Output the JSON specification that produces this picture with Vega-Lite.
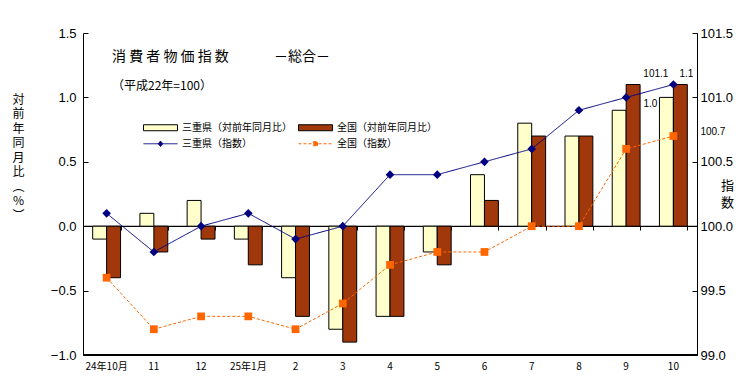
{
  "$schema": "https://vega.github.io/schema/vega-lite/v6.json",
  "width": 614,
  "height": 322,
  "autosize": "none",
  "padding": {"left": 83, "top": 33, "right": 47, "bottom": 23},
  "background": "white",
  "config": {
    "view": {"stroke": null},
    "font": "Noto Sans CJK JP",
    "axis": {"grid": false, "domain": true, "domainColor": "#000000", "domainOpacity": 1, "tickColor": "#000000", "tickOpacity": 1, "labelColor": "black", "titleColor": "black", "titleFontWeight": "normal", "domainWidth": 1, "tickWidth": 1},
    "legend": {"labelColor": "black", "labelFont": "Noto Sans CJK JP", "labelFontSize": 10}
  },
  "title": {
    "text": "消 費 者 物 価 指 数　　　 －総合－",
    "subtitle": "（平成22年=100）",
    "anchor": "start",
    "frame": "group",
    "font": "Noto Sans CJK JP",
    "subtitleFont": "Noto Sans CJK JP",
    "fontSize": 14,
    "fontWeight": "normal",
    "subtitleFontSize": 12,
    "color": "black",
    "subtitleColor": "black",
    "dx": 29,
    "dy": 69,
    "subtitlePadding": 17
  },
  "datasets": {
    "yoy": [
      {"month": "24年10月", "series": "三重県（対前年同月比）", "value": -0.1},
      {"month": "24年10月", "series": "全国（対前年同月比）", "value": -0.4},
      {"month": "11", "series": "三重県（対前年同月比）", "value": 0.1},
      {"month": "11", "series": "全国（対前年同月比）", "value": -0.2},
      {"month": "12", "series": "三重県（対前年同月比）", "value": 0.2},
      {"month": "12", "series": "全国（対前年同月比）", "value": -0.1},
      {"month": "25年1月", "series": "三重県（対前年同月比）", "value": -0.1},
      {"month": "25年1月", "series": "全国（対前年同月比）", "value": -0.3},
      {"month": "2", "series": "三重県（対前年同月比）", "value": -0.4},
      {"month": "2", "series": "全国（対前年同月比）", "value": -0.7},
      {"month": "3", "series": "三重県（対前年同月比）", "value": -0.8},
      {"month": "3", "series": "全国（対前年同月比）", "value": -0.9},
      {"month": "4", "series": "三重県（対前年同月比）", "value": -0.7},
      {"month": "4", "series": "全国（対前年同月比）", "value": -0.7},
      {"month": "5", "series": "三重県（対前年同月比）", "value": -0.2},
      {"month": "5", "series": "全国（対前年同月比）", "value": -0.3},
      {"month": "6", "series": "三重県（対前年同月比）", "value": 0.4},
      {"month": "6", "series": "全国（対前年同月比）", "value": 0.2},
      {"month": "7", "series": "三重県（対前年同月比）", "value": 0.8},
      {"month": "7", "series": "全国（対前年同月比）", "value": 0.7},
      {"month": "8", "series": "三重県（対前年同月比）", "value": 0.7},
      {"month": "8", "series": "全国（対前年同月比）", "value": 0.7},
      {"month": "9", "series": "三重県（対前年同月比）", "value": 0.9},
      {"month": "9", "series": "全国（対前年同月比）", "value": 1.1},
      {"month": "10", "series": "三重県（対前年同月比）", "value": 1.0},
      {"month": "10", "series": "全国（対前年同月比）", "value": 1.1}
    ],
    "idx": [
      {"month": "24年10月", "series": "三重県（指数）", "value": 100.1},
      {"month": "24年10月", "series": "全国（指数）", "value": 99.6},
      {"month": "11", "series": "三重県（指数）", "value": 99.8},
      {"month": "11", "series": "全国（指数）", "value": 99.2},
      {"month": "12", "series": "三重県（指数）", "value": 100.0},
      {"month": "12", "series": "全国（指数）", "value": 99.3},
      {"month": "25年1月", "series": "三重県（指数）", "value": 100.1},
      {"month": "25年1月", "series": "全国（指数）", "value": 99.3},
      {"month": "2", "series": "三重県（指数）", "value": 99.9},
      {"month": "2", "series": "全国（指数）", "value": 99.2},
      {"month": "3", "series": "三重県（指数）", "value": 100.0},
      {"month": "3", "series": "全国（指数）", "value": 99.4},
      {"month": "4", "series": "三重県（指数）", "value": 100.4},
      {"month": "4", "series": "全国（指数）", "value": 99.7},
      {"month": "5", "series": "三重県（指数）", "value": 100.4},
      {"month": "5", "series": "全国（指数）", "value": 99.8},
      {"month": "6", "series": "三重県（指数）", "value": 100.5},
      {"month": "6", "series": "全国（指数）", "value": 99.8},
      {"month": "7", "series": "三重県（指数）", "value": 100.6},
      {"month": "7", "series": "全国（指数）", "value": 100.0},
      {"month": "8", "series": "三重県（指数）", "value": 100.9},
      {"month": "8", "series": "全国（指数）", "value": 100.0},
      {"month": "9", "series": "三重県（指数）", "value": 101.0},
      {"month": "9", "series": "全国（指数）", "value": 100.6},
      {"month": "10", "series": "三重県（指数）", "value": 101.1},
      {"month": "10", "series": "全国（指数）", "value": 100.7}
    ]
  },
  "layer": [
    {
      "data": {"values": [{}]},
      "mark": {"type": "rect", "color": "black", "opacity": 1},
      "encoding": {
        "y": {"datum": 0.004, "type": "quantitative", "scale": {"domain": [-1, 1.5], "nice": false, "zero": false}, "axis": null},
        "y2": {"datum": -0.004}
      }
    },
    {
      "data": {"values": [{}]},
      "mark": {"type": "rect", "color": "black", "opacity": 1},
      "encoding": {
        "y": {"datum": -0.992, "type": "quantitative", "scale": {"domain": [-1, 1.5], "nice": false, "zero": false}, "axis": null},
        "y2": {"datum": -1}
      }
    },
    {
      "data": {"name": "yoy"},
      "encoding": {
        "x": {
          "field": "month", "type": "nominal", "sort": null,
          "scale": {"paddingInner": 0.41, "paddingOuter": 0.205},
          "axis": {"title": null, "domain": true, "ticks": false, "labelAngle": 0, "labelFontSize": 10, "labelFont": "Noto Sans CJK JP", "labelPadding": 6, "orient": "bottom"}
        },
        "y": {
          "field": "value", "type": "quantitative",
          "scale": {"domain": [-1, 1.5], "nice": false, "zero": false},
          "axis": {
            "orient": "left", "values": [-1, -0.5, 0, 0.5, 1, 1.5], "format": ".1f",
            "domain": true, "ticks": true,
            "tickSize": -5, "labelFont": "Liberation Sans", "labelFontSize": 13, "labelPadding": 12,
            "title": ["対", "前", "年", "同", "月", "比", "︵", "%", "︶"],
            "titleAngle": 0, "titleX": -65, "titleY": 61, "titleBaseline": "top", "titleAlign": "center",
            "titleFontSize": 12, "titleLineHeight": 14.5, "titleFont": "Noto Sans CJK JP"
          }
        }
      },
      "layer": [
        {
          "mark": {"type": "bar", "stroke": "black", "strokeWidth": 1},
          "encoding": {
            "xOffset": {"field": "series", "type": "nominal", "scale": {"domain": ["三重県（対前年同月比）", "全国（対前年同月比）"]}},
            "fill": {
              "field": "series", "type": "nominal",
              "scale": {"domain": ["三重県（対前年同月比）", "全国（対前年同月比）"], "range": ["#FFFFCC", "#A0380C"]},
              "legend": {
                "title": null, "orient": "none", "legendX": 60, "legendY": 77,
                "direction": "horizontal", "columns": 2,
                "symbolType": "M-1,-0.176H1V0.176H-1Z", "symbolSize": 1156,
                "symbolStrokeColor": "black", "symbolStrokeWidth": 1,
                "labelOffset": 4, "columnPadding": 4, "labelLimit": 300
              }
            }
          }
        },
        {
          "transform": [{"filter": "datum.month === '10' && datum.series === '三重県（対前年同月比）'"}],
          "mark": {"type": "text", "align": "right", "baseline": "middle", "dx": -9, "dy": 7, "font": "Liberation Sans", "fontSize": 10, "color": "black"},
          "encoding": {
            "xOffset": {"field": "series", "type": "nominal"},
            "text": {"field": "value", "type": "quantitative", "format": ".1f"}
          }
        },
        {
          "transform": [{"filter": "datum.month === '10' && datum.series === '全国（対前年同月比）'"}],
          "mark": {"type": "text", "align": "center", "baseline": "middle", "dx": 6, "dy": -11, "font": "Liberation Sans", "fontSize": 10, "color": "black"},
          "encoding": {
            "xOffset": {"field": "series", "type": "nominal"},
            "text": {"field": "value", "type": "quantitative", "format": ".1f"}
          }
        }
      ]
    },
    {
      "data": {"name": "idx"},
      "encoding": {
        "x": {
          "field": "month", "type": "nominal", "sort": null,
          "axis": {"title": null, "orient": "bottom", "offset": -129, "domain": true, "labels": false, "ticks": true, "tickBand": "extent", "tickSize": 4}
        },
        "y": {
          "field": "value", "type": "quantitative",
          "scale": {"domain": [99, 101.5], "nice": false, "zero": false},
          "axis": {
            "orient": "right", "values": [99, 99.5, 100, 100.5, 101, 101.5], "format": ".1f",
            "domain": true, "ticks": true,
            "tickSize": -5, "labelFont": "Liberation Sans", "labelFontSize": 13, "labelPadding": 8,
            "title": ["指", "数"], "titleAngle": 0, "titleX": 30, "titleY": 146, "titleBaseline": "top", "titleAlign": "center",
            "titleFontSize": 13, "titleLineHeight": 17, "titleFont": "Noto Sans CJK JP"
          }
        }
      },
      "layer": [
        {
          "mark": {"type": "line", "strokeWidth": 1},
          "encoding": {
            "stroke": {
              "field": "series", "type": "nominal",
              "scale": {"domain": ["三重県（指数）", "全国（指数）"], "range": ["#000080", "#FF6600"]},
              "legend": {
                "title": null, "orient": "none", "legendX": 60, "legendY": 93,
                "direction": "horizontal", "columns": 2,
                "symbolType": "M-1,0H1M0,-0.16L0.13,0L0,0.16L-0.13,0Z", "symbolSize": 1156,
                "labelOffset": 4, "columnPadding": 44, "labelLimit": 300,
                "encode": {
                  "symbols": {
                    "update": {
                      "shape": [{"test": "datum.value === '全国（指数）'", "value": "M-1,0H1M-0.12,-0.12H0.12V0.12H-0.12Z"}, {"value": "M-1,0H1M0,-0.16L0.13,0L0,0.16L-0.13,0Z"}],
                      "fill": [{"test": "datum.value === '全国（指数）'", "value": "#FF6600"}, {"value": "#000080"}],
                      "strokeDash": [{"test": "datum.value === '全国（指数）'", "value": [3, 2]}, {"value": [1, 0]}],
                      "strokeWidth": {"value": 1}
                    }
                  }
                }
              }
            },
            "strokeDash": {
              "field": "series", "type": "nominal",
              "scale": {"domain": ["三重県（指数）", "全国（指数）"], "range": [[1, 0], [3, 2]]},
              "legend": null
            }
          }
        },
        {
          "transform": [{"filter": "datum.series === '三重県（指数）'"}],
          "mark": {"type": "point", "shape": "diamond", "filled": true, "color": "#000080", "size": 75, "opacity": 1, "strokeWidth": 0}
        },
        {
          "transform": [{"filter": "datum.series === '全国（指数）'"}],
          "mark": {"type": "point", "shape": "square", "filled": true, "color": "#FF6600", "size": 60, "opacity": 1, "strokeWidth": 0}
        },
        {
          "transform": [{"filter": "datum.month === '10' && datum.series === '三重県（指数）'"}],
          "mark": {"type": "text", "align": "right", "baseline": "middle", "dx": -5, "dy": -11, "font": "Liberation Sans", "fontSize": 10, "color": "black"},
          "encoding": {"text": {"field": "value", "type": "quantitative", "format": ".1f"}}
        },
        {
          "transform": [{"filter": "datum.month === '10' && datum.series === '全国（指数）'"}],
          "mark": {"type": "text", "align": "left", "baseline": "middle", "dx": 27, "dy": -4, "font": "Liberation Sans", "fontSize": 10, "color": "black"},
          "encoding": {"text": {"field": "value", "type": "quantitative", "format": ".1f"}}
        }
      ]
    }
  ],
  "resolve": {"scale": {"y": "independent"}, "axis": {"x": "independent"}}
}
